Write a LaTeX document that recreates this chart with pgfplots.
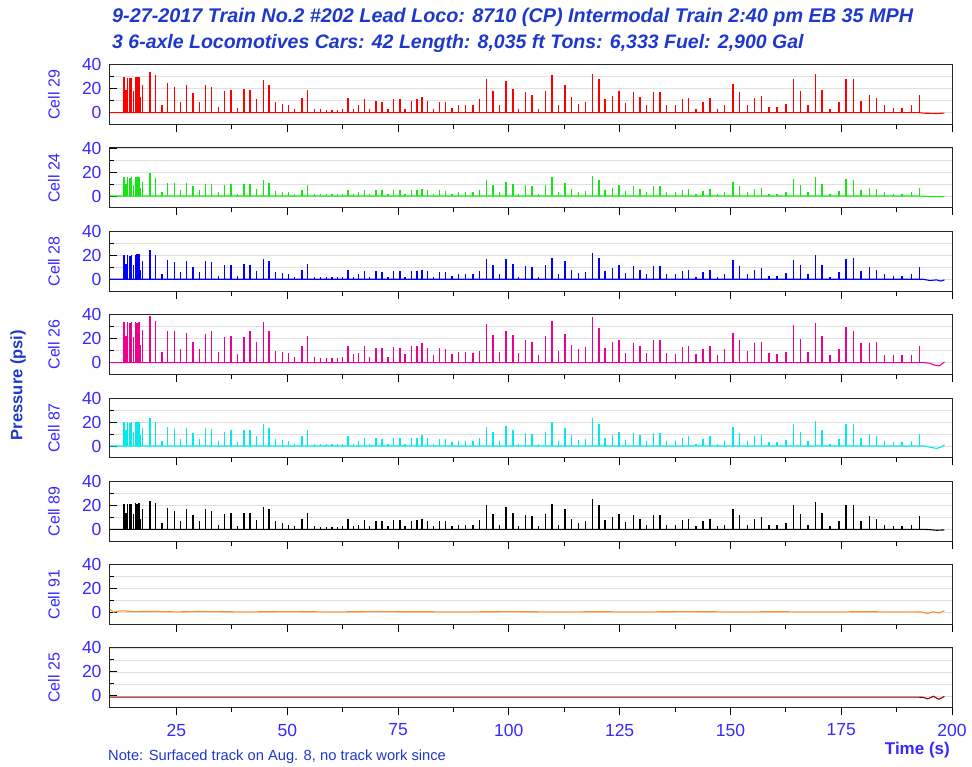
\documentclass[border=0pt]{standalone}
\usepackage{fontspec}
\setmainfont{Liberation Sans}
\usepackage{pgfplots}
\usepackage{pgfplotstable}
\pgfplotsset{compat=1.18}

\definecolor{titleblue}{RGB}{30,55,205}
\definecolor{tickblue}{RGB}{55,40,255}
\definecolor{c24}{RGB}{20,230,20}
\definecolor{c87}{RGB}{0,235,235}
\definecolor{c91}{RGB}{255,140,50}
\definecolor{c25}{RGB}{140,0,0}

% spike times (s) and peak pressures (psi) per cell
% R=Cell 29, M=Cell 26, G=Cell 24, B=Cell 28, C=Cell 87, K=Cell 89
\pgfplotstableread{
t R M G B C K
13.2 30 34 16 20 20 21
13.6 19 22 10 13 13 14
14.0 29 34 16 20 20 21
14.5 29 33 15 19 19 21
14.9 29 34 16 20 20 21
15.3 18 21 9 12 12 13
15.7 30 34 16 20 20 22
16.1 30 33 16 21 20 21
16.5 30 34 16 21 20 22
16.9 13 15 7 8 9 9
17.3 23 27 12 15 15 17
19.0 34 39 19 24 23 24
20.3 31 35 15 20 20 22
21.7 6 9 3 4 4 5
23.0 25 26 11 16 16 18
24.5 21 26 11 14 14 15
25.9 9 11 5 6 6 7
27.3 23 25 11 15 15 17
28.7 16 17 8 10 11 12
30.2 9 11 5 6 6 7
31.6 23 24 10 15 15 17
32.9 21 26 10 14 14 15
34.5 5 9 3 3 4 4
35.9 18 21 9 12 12 13
37.3 19 22 10 12 13 14
38.8 4 7 2 3 3 3
40.2 20 21 10 13 13 14
41.6 19 26 10 12 13 14
43.1 11 17 6 7 8 8
44.6 27 34 13 17 18 19
45.9 23 26 11 15 15 17
47.4 9 10 4 6 6 7
48.9 7 9 3 5 5 5
50.3 6 8 3 4 4 4
51.7 3 5 2 2 2 3
53.3 12 14 5 8 8 9
54.6 19 22 9 13 13 14
56.1 3 5 2 2 2 3
57.5 3 4 2 2 2 2
58.9 2.5 4 1.5 2 2 2
60.1 2.5 4 1.5 2 2 2
61.4 2.5 4 1.5 2 2 2
62.4 3 5 2 2 2 3
63.7 12 14 5 8 8 9
65.0 3 7 2 2 2 3
66.1 6 8 3 4 4 4
67.4 11 14 5 7 7 8
68.6 3 5 2 2 2 3
70.0 10 12 5 7 7 7
71.4 9 12 5 6 6 7
72.7 3 5 2 2 2 3
74.0 11 13 5 7 7 8
75.4 11 12 5 7 7 8
76.6 3 7 2 2 2 3
78.0 10 14 5 7 7 7
79.3 11 14 5 7 7 8
80.4 13 16 6 8 9 9
81.7 10 12 5 7 7 7
83.0 3 6 2 2 2 3
84.4 9 12 5 6 6 7
85.7 9 11 4 6 6 7
87.2 4 7 2 3 3 3
88.7 6 9 3 4 4 4
90.2 6 9 3 4 4 4
91.9 6 8 3 4 4 4
93.4 11 10 5 7 7 8
95.0 28 32 13 17 16 20
96.4 18 23 9 12 12 13
97.9 6 9 3 4 4 4
99.4 26 26 12 17 17 19
100.9 20 23 10 13 13 14
102.2 3 8 2 2 2 3
103.7 17 19 9 11 11 12
105.2 15 17 8 10 10 11
106.7 3 6 2 2 2 3
108.3 18 22 9 12 12 13
109.7 31 35 16 18 20 21
111.2 6 10 3 4 4 4
112.7 23 24 11 15 15 17
114.2 13 15 6 8 9 9
115.7 7 11 3 5 5 5
117.3 9 13 4 6 6 7
118.9 32 38 17 22 23 25
120.3 28 29 13 18 18 20
121.7 11 12 5 7 7 8
123.4 14 17 7 9 9 10
124.9 18 19 9 12 12 13
126.3 8 8 4 5 5 6
128.1 17 16 8 11 11 12
129.6 13 14 6 8 9 9
131.1 6 8 3 4 4 4
132.6 17 19 8 11 11 12
134.1 17 19 8 11 11 12
135.6 6 8 3 4 4 4
137.6 6 7 3 4 4 4
139.2 11 13 5 7 7 8
140.6 12 14 6 8 8 9
142.2 3 7 2 2 2 3
143.8 9 11 4 6 6 7
145.4 12 14 6 8 8 9
147.1 3 6 2 2 2 3
148.7 6 11 3 4 4 4
150.6 24 25 12 16 16 17
152.1 17 19 8 11 11 12
153.8 6 10 3 4 4 4
155.5 12 16 6 8 8 9
157.0 14 17 7 9 9 10
158.7 5 8 2 3 3 4
160.5 5 7 2 3 3 4
162.5 7 9 3 5 5 5
164.3 28 31 14 16 18 20
165.8 18 20 9 12 12 13
167.5 6 9 3 4 4 4
169.2 32 33 16 20 21 23
170.7 19 22 10 12 13 14
172.5 3 6 2 2 2 3
174.5 9 11 4 6 6 7
176.1 28 30 14 17 18 20
177.8 28 26 13 18 18 20
179.5 10 16 5 7 7 7
181.4 15 16 7 10 10 11
183.0 12 17 6 8 8 9
184.7 6 6 3 4 4 4
186.8 4 6 2 3 3 3
188.7 4 6 2 3 3 3
190.8 6 6 3 4 4 4
192.6 15 14 7 10 10 11
}\spikes

\pgfplotsset{
  panel/.style={
    scale only axis, width=842pt, height=60pt, anchor=north west,
    xmin=10, xmax=200, ymin=-10, ymax=40,
    xtick={25,50,...,200}, minor x tick num=1,
    ytick={0,20,40}, minor y tick num=1,
    xtick pos=left, ytick pos=left,
    xtick align=outside, ytick align=inside,
    major tick length=7.5pt, minor tick length=4.5pt,
    ymajorgrids, yminorgrids,
    grid style={black!12, line width=0.8pt},
    axis line style={line width=1pt, black!85},
    tick style={black, line width=0.9pt},
    ticklabel style={font=\fontsize{17.5}{19}\selectfont, text=tickblue},
    /pgf/number format/assume math mode=true,
    yticklabel style={xshift=-5pt},
    xticklabel style={yshift=-5pt},
    ylabel style={at={(axis description cs:-0.0665,0.5)}, anchor=center,
      font=\fontsize{16}{18}\selectfont, text=tickblue},
  },
  spike/.style={ycomb, line width=1.4pt},
  base/.style={line width=1.1pt},
}

\begin{document}
\begin{tikzpicture}
\useasboundingbox (0,0) rectangle (972pt,-767pt);

\node[anchor=base west, inner sep=0pt, text=titleblue, font=\fontsize{19.8}{22}\selectfont\bfseries\itshape] at (112pt,-22.5pt)
  {9-27-2017 Train No.2 \#202 Lead Loco: 8710 (CP) Intermodal Train 2:40 pm EB 35 MPH};
\node[anchor=base west, inner sep=0pt, text=titleblue, font=\fontsize{19.5}{21}\selectfont\bfseries\itshape] at (112pt,-48.5pt)
  {3 6-axle Locomotives Cars: 42 Length: 8,035 ft Tons: 6,333 Fuel: 2,900 Gal};

\begin{axis}[panel, at={(110pt,-64.7pt)}, ylabel={Cell 29}, xticklabels={}]
\addplot[spike, red] table[x=t, y=R] {\spikes};
\addplot[base, red] coordinates {(10,0) (192.6,0) (193.5,-0.4) (195,-0.5) (196.5,-0.7) (198.3,-0.3)};
\end{axis}

\begin{axis}[panel, at={(110pt,-148pt)}, ylabel={Cell 24}, xticklabels={}]
\addplot[spike, c24] table[x=t, y=G] {\spikes};
\addplot[base, c24] coordinates {(10,0) (192.6,0) (194,-0.3) (196,-0.6) (198.3,-0.3)};
\end{axis}

\begin{axis}[panel, at={(110pt,-231.3pt)}, ylabel={Cell 28}, xticklabels={}]
\addplot[spike, blue] table[x=t, y=B] {\spikes};
\addplot[base, blue] coordinates {(10,0) (192.6,0) (193.5,0) (195,-1) (196.5,-0.5) (197.5,-1.5) (198.3,-0.5)};
\end{axis}

\begin{axis}[panel, at={(110pt,-314.6pt)}, ylabel={Cell 26}, xticklabels={}]
\addplot[spike, magenta] table[x=t, y=M] {\spikes};
\addplot[base, magenta] coordinates {(10,0) (192.6,0) (193.8,0) (194.9,-0.5) (196,-2) (197.1,-2.8) (198.3,0.5)};
\end{axis}

\begin{axis}[panel, at={(110pt,-398pt)}, ylabel={Cell 87}, xticklabels={}]
\addplot[spike, c87] table[x=t, y=C] {\spikes};
\addplot[base, c87] coordinates {(10,0) (192.6,0) (193.8,0) (195,-1) (196.5,-2) (197.5,-1) (198.3,1)};
\end{axis}

\begin{axis}[panel, at={(110pt,-481.3pt)}, ylabel={Cell 89}, xticklabels={}]
\addplot[spike, black] table[x=t, y=K] {\spikes};
\addplot[base, black] coordinates {(10,0) (192.6,0) (193.5,0) (195,-0.3) (196.5,-0.8) (198.3,-0.5)};
\end{axis}

\begin{axis}[panel, at={(110pt,-564.6pt)}, ylabel={Cell 91}, xticklabels={}]
\addplot[base, c91] coordinates {(10,2.8) (10.8,0.2) (11.5,1.0) (13,1.5) (15,0.8) (20,1.0) (25,0.6)
  (30,0.9) (40,0.6) (50,0.8) (60,0.6) (70,0.8) (80,0.7) (90,0.6) (100,0.8) (110,0.6) (120,0.7)
  (130,0.6) (140,0.8) (150,0.6) (160,0.7) (170,0.6) (180,0.7) (190,0.6) (193,0.5) (194.5,-0.8)
  (195.8,0.6) (197,-0.4) (198.3,1.5)};
\end{axis}

\begin{axis}[panel, at={(110pt,-647.9pt)}, ylabel={Cell 25}]
\addplot[base, c25] coordinates {(10,-1) (192,-1) (193.5,-1.2) (194.5,-2.5) (195.8,-0.3) (197,-2.8) (198.3,-0.5)};
\end{axis}

\node[rotate=90, text=titleblue, font=\fontsize{16.5}{18}\selectfont\bfseries] at (18pt,-385pt) {Pressure (psi)};
\node[anchor=base east, inner sep=0pt, text=tickblue, font=\fontsize{17}{19}\selectfont\bfseries] at (950pt,-754pt) {Time (s)};
\node[anchor=base west, inner sep=0pt, text=titleblue, font=\fontsize{14.7}{16}\selectfont] at (108pt,-760pt)
  {Note: Surfaced track on Aug. 8, no track work since};
\end{tikzpicture}
\end{document}
